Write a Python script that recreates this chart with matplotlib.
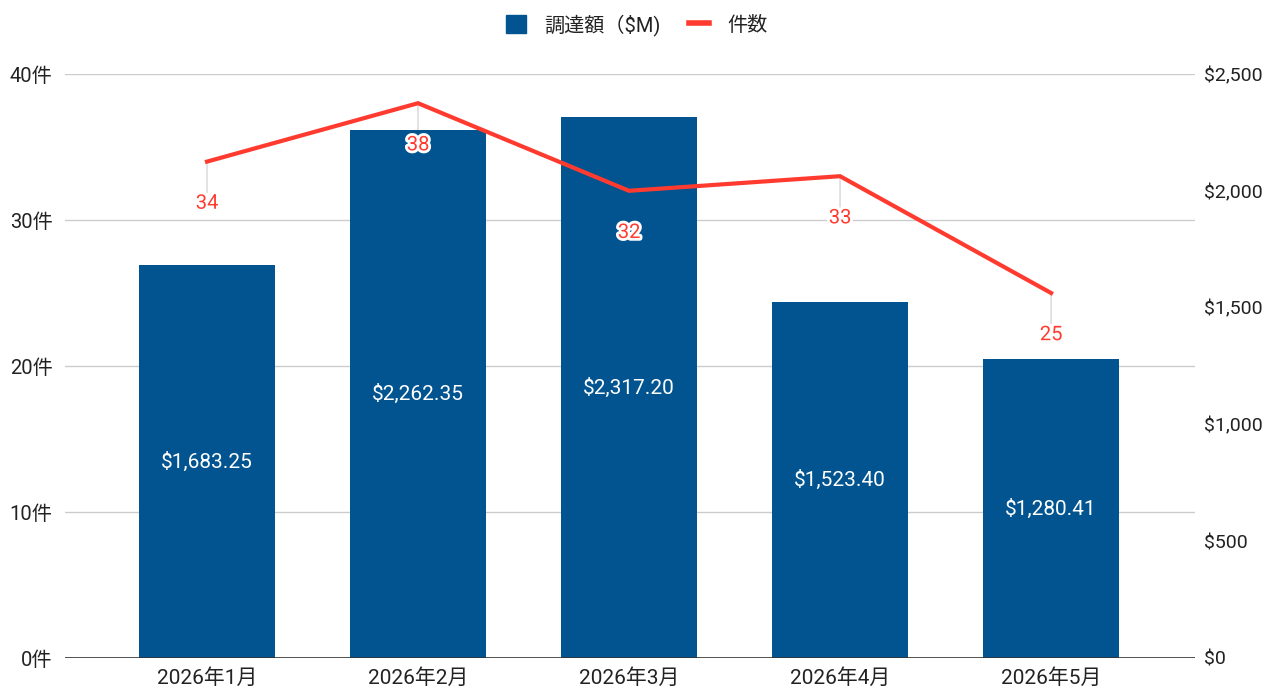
import matplotlib.pyplot as plt
import matplotlib.patheffects as pe
import matplotlib.ticker as ticker
from matplotlib.lines import Line2D
from matplotlib.patches import Patch

plt.rcParams['font.family'] = ['Roboto', 'Noto Sans CJK JP', 'DejaVu Sans']

# ── Data ──────────────────────────────────────────────────────────────────────
months  = ["2026年1月", "2026年2月", "2026年3月", "2026年4月", "2026年5月"]
funding = [1683.25, 2262.35, 2317.20, 1523.40, 1280.41]   # $M
counts  = [34, 38, 32, 33, 25]
# ─────────────────────────────────────────────────────────────────────────────

BAR  = "#01548f"
RED  = "#ff3b30"
TEXT = "#222222"

fig = plt.figure(figsize=(12.66, 6.87), dpi=100)
ax = fig.add_axes([65 / 1266, 29 / 687, 1130 / 1266, 584 / 687])   # counts (left)
ax2 = ax.twinx()                                                  # funding (right)

x = list(range(len(months)))

# bars on the right axis, drawn beneath the line
ax2.bar(x, funding, width=0.645, color=BAR, zorder=2)
for xi, v in zip(x, funding):
    ax2.text(xi, v / 2, f"${v:,.2f}", color="white", fontsize=15,
             ha="center", va="center", zorder=3)
ax2.set_ylim(0, 2500)
ax2.yaxis.set_major_locator(ticker.MultipleLocator(500))
ax2.yaxis.set_major_formatter(ticker.FuncFormatter(lambda v, p: f"${v:,.0f}"))

# line on the left axis
ax.set_zorder(ax2.get_zorder() + 1)
ax.patch.set_visible(False)
ax.plot(x, counts, color=RED, linewidth=3, zorder=5, solid_joinstyle="miter")
for xi, c in zip(x, counts):
    # leader lines sit behind the bars
    ax2.annotate("", xy=(xi, c), xycoords=ax.transData, xytext=(0, -22),
                 textcoords="offset points",
                 arrowprops=dict(arrowstyle="-", color="#dddddd", lw=1.2,
                                 shrinkA=0, shrinkB=0), zorder=1.5)
    ax.annotate(str(c), xy=(xi, c), xytext=(0, -30), textcoords="offset points",
                ha="center", va="center", color=RED, fontsize=14.5, zorder=6,
                path_effects=[pe.withStroke(linewidth=4, foreground="white")])
ax.set_ylim(0, 40)
ax.yaxis.set_major_locator(ticker.MultipleLocator(10))
ax.yaxis.set_major_formatter(ticker.FuncFormatter(lambda v, p: f"{v:.0f}件"))

ax.set_xlim(-0.673, 4.682)
ax.set_xticks(x)
ax.set_xticklabels(months)

# grid drawn on the bar axis so it sits behind the bars
for v in [10, 20, 30, 40]:
    ax2.axhline(v / 40 * 2500, color="#cccccc", linewidth=1, zorder=1)

for a in (ax, ax2):
    for side in ["top", "left", "right", "bottom"]:
        a.spines[side].set_visible(False)
    a.tick_params(length=0, colors=TEXT)
ax2.axhline(0, color="#333333", linewidth=1.2, zorder=4)
ax.tick_params(axis="y", pad=9, labelsize=14.5)
ax2.tick_params(axis="y", pad=6.5, labelsize=14)
ax.tick_params(axis="x", pad=7, labelsize=15)

handles = [Patch(facecolor=BAR, edgecolor=BAR, label="調達額（$M)"),
           Line2D([0], [0], color=RED, linewidth=4, label="件数")]
fig.legend(handles=handles, loc="center", bbox_to_anchor=(0.503, 1 - 25 / 687),
           ncol=2, frameon=False, fontsize=14.5, handlelength=1.0,
           handleheight=1.0, columnspacing=1.4, handletextpad=0.9,
           labelcolor=TEXT)

fig.savefig("out.png", dpi=100)
